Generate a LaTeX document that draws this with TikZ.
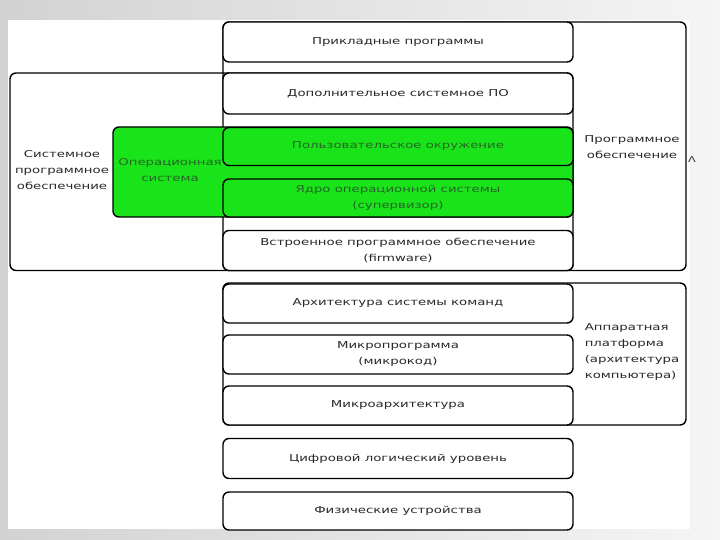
\documentclass[tikz,border=0pt]{standalone}
\usepackage{fontspec}
\setmainfont[FakeStretch=1.4]{DejaVu Sans}
\usetikzlibrary{positioning, fit, backgrounds}
\definecolor{osgreen}{RGB}{25,228,25}
\definecolor{txtgray}{RGB}{40,40,40}
\definecolor{ostxt}{RGB}{40,100,40}
\newcommand{\lyrfont}{\fontsize{9.5}{16}\selectfont}
\tikzset{
  lyr/.style  ={rectangle, rounded corners=6pt, draw, line width=1.4pt, fill=white, align=center, outer sep=0pt,
                minimum width=350pt, minimum height=39pt, inner sep=0pt, font=\lyrfont, text=txtgray},
  oslyr/.style={lyr, fill=osgreen, text=ostxt},
  grp/.style  ={rectangle, rounded corners=6pt, draw, line width=1.4pt, inner sep=0pt, outer sep=0pt},
  lbl/.style  ={align=center, font=\lyrfont, text=txtgray},
}
\begin{document}
\begin{tikzpicture}[x=1pt, y=-1pt, node distance=13.5pt]
  \useasboundingbox (0,0) rectangle (720,540);
  % software / hardware levels
  \node[lyr, minimum height=40pt] (prikl) at (398,42) {Прикладные программы};
  \node[lyr, below=11pt of prikl, minimum height=41pt] (dop) {Дополнительное системное ПО};
  \node[oslyr, below=of dop, minimum height=38pt] (polz) {Пользовательское окружение};
  \node[oslyr, below=of polz, minimum height=38pt] (yadro) {Ядро операционной системы\\(супервизор)};
  \node[lyr, below=of yadro, minimum height=40pt] (vstr) {Встроенное программное обеспечение\\(firmware)};
  \node[lyr, below=of vstr] (isa) {Архитектура системы команд};
  \node[lyr, below=12pt of isa] (mprog) {Микропрограмма\\(микрокод)};
  \node[lyr, below=12pt of mprog] (march) {Микроархитектура};
  \node[lyr, below=of march, minimum height=40pt] (logic) {Цифровой логический уровень};
  \node[lyr, below=of logic, minimum height=38pt] (phys) {Физические устройства};

  \coordinate (progR) at (686,22);
  \coordinate (sysL) at (10,73);
  \coordinate (osL) at (113,127);
  \coordinate (hwR) at (686,283);

  \begin{scope}[on background layer]
    \shade[left color=gray!35, right color=gray!8] (0,0) rectangle (720,540);
    \fill[white] (8,20) rectangle (690,529);
    \node[grp, fit=(dop)(vstr)(sysL)] (sys) {};
    \node[grp, fit=(prikl)(vstr)(progR)] (prog) {};
    \node[grp, fit=(isa)(march)(hwR)] (hw) {};
    \node[grp, fill=osgreen, fit=(polz)(yadro)(osL)] (os) {};
  \end{scope}

  % group labels
  \node[lbl] (sysLbl) at (62,170) {Системное\\программное\\обеспечение};
  \node[lbl, text=ostxt] (osLbl) at (170,170) {Операционная\\система};
  \node[lbl] (progLbl) at (632,147) {Программное\\обеспечение};
  \node[lbl, align=left] (hwLbl) at (632,352) {Аппаратная\\платформа\\(архитектура\\компьютера)};
  \node[lbl, font=\footnotesize] (cut) at (692,160) {Λ};
\end{tikzpicture}
\end{document}
